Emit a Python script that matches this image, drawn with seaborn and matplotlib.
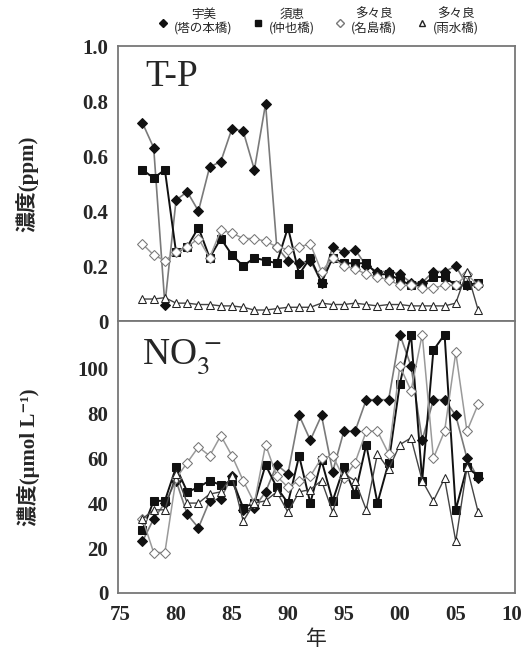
import numpy as np
import pandas as pd
import matplotlib
matplotlib.use("Agg")
import matplotlib.pyplot as plt
from matplotlib.lines import Line2D
import seaborn as sns

years = list(range(1977, 2008))

# T-P (ppm)
tp_umi = [0.72, 0.63, 0.06, 0.44, 0.47, 0.40, 0.56, 0.58, 0.70, 0.69, 0.55, 0.79, 0.27, 0.22, 0.21, 0.22,
          0.14, 0.27, 0.25, 0.26, 0.20, 0.18, 0.18, 0.17, 0.14, 0.14, 0.18, 0.18, 0.20, 0.13, 0.13]
tp_sue = [0.55, 0.52, 0.55, 0.25, 0.27, 0.34, 0.23, 0.30, 0.24, 0.20, 0.23, 0.22, 0.21, 0.34, 0.17, 0.23,
          0.14, 0.23, 0.21, 0.21, 0.21, 0.17, 0.17, 0.15, 0.13, 0.13, 0.16, 0.16, 0.13, 0.13, 0.14]
tp_najima = [0.28, 0.24, 0.22, 0.25, 0.27, 0.30, 0.23, 0.33, 0.32, 0.30, 0.30, 0.29, 0.27, 0.26, 0.27, 0.28,
             0.18, 0.23, 0.20, 0.19, 0.17, 0.16, 0.15, 0.13, 0.13, 0.12, 0.12, 0.13, 0.13, 0.17, 0.13]
tp_usui = [0.08, 0.08, 0.085, 0.065, 0.065, 0.06, 0.06, 0.055, 0.055, 0.05, 0.04, 0.04, 0.045, 0.05, 0.05, 0.05,
           0.065, 0.06, 0.06, 0.065, 0.06, 0.055, 0.06, 0.06, 0.055, 0.055, 0.055, 0.055, 0.065, 0.18, 0.04]

# NO3- (umol/L)
no3_umi = [23, 33, 40, 50, 35, 29, 41, 42, 52, 37, 38, 45, 57, 53, 79, 68,
           79, 54, 72, 72, 86, 86, 86, 115, 101, 68, 86, 86, 79, 60, 51]
no3_sue = [28, 41, 41, 56, 45, 47, 50, 48, 50, 38, 40, 57, 47, 40, 61, 40,
           59, 41, 56, 44, 66, 40, 58, 93, 115, 50, 108, 115, 37, 56, 52]
no3_najima = [33, 18, 18, 51, 58, 65, 61, 70, 61, 50, 40, 66, 52, 47, 50, 52,
              60, 61, 51, 58, 72, 72, 62, 101, 90, 115, 60, 72, 107, 72, 84]
no3_usui = [33, 37, 37, 53, 40, 40, 44, 45, 52, 32, 40, 41, 45, 36, 45, 46,
            50, 36, 53, 50, 37, 62, 55, 66, 69, 50, 41, 51, 23, 56, 36]

site_labels = ["宇美\n(塔の本橋)", "須恵\n(仲也橋)", "多々良\n(名島橋)", "多々良\n(雨水橋)"]
xtick_years = [1975, 1980, 1985, 1990, 1995, 2000, 2005, 2010]
xtick_labels = ["75", "80", "85", "90", "95", "00", "05", "10"]
tp_ticks = [0, 0.2, 0.4, 0.6, 0.8, 1.0]
tp_ticklabels = ["0", "0.2", "0.4", "0.6", "0.8", "1.0"]
no3_ticks = [0, 20, 40, 60, 80, 100]

sns.set_style("white")
plt.rcParams["font.family"] = ["Liberation Serif", "Noto Sans CJK JP", "DejaVu Sans"]
plt.rcParams["mathtext.fontset"] = "stix"

styles = [
    dict(marker="D", markersize=5, color="#7a7a7a", markerfacecolor="#111111", markeredgecolor="#111111", linewidth=1.2),
    dict(marker="s", markersize=6, color="#111111", markerfacecolor="#111111", markeredgecolor="#111111", linewidth=1.4),
    dict(marker="D", markersize=5, color="#9a9a9a", markerfacecolor="white", markeredgecolor="#777777", linewidth=1.1),
    dict(marker="^", markersize=6, color="#444444", markerfacecolor="white", markeredgecolor="#222222", linewidth=1.0),
]

fig = plt.figure(figsize=(5.31, 6.63), dpi=100)
ax1 = fig.add_axes([0.222, 0.5158, 0.748, 0.4148])
ax2 = fig.add_axes([0.222, 0.1056, 0.748, 0.4102], sharex=ax1)

for vals, st in zip([tp_umi, tp_sue, tp_najima, tp_usui], styles):
    sns.lineplot(x=years, y=vals, ax=ax1, **st)
for vals, st in zip([no3_umi, no3_sue, no3_najima, no3_usui], styles):
    sns.lineplot(x=years, y=vals, ax=ax2, **st)

ax1.set_ylim(0, 1.0)
ax2.set_ylim(0, 121)
ax1.set_xlim(1974.8, 2010.3)

ax1.set_yticks(tp_ticks)
ax1.set_yticklabels(tp_ticklabels)
ax2.set_yticks(no3_ticks)
ax2.set_xticks(xtick_years)
ax2.set_xticklabels(xtick_labels)
ax1.tick_params(labelbottom=False)

for ax in (ax1, ax2):
    for sp in ax.spines.values():
        sp.set_color("#777777")
        sp.set_linewidth(1.3)
    ax.tick_params(direction="in", length=3, color="#999999", labelsize=15, width=0.8)
    for lab in ax.get_yticklabels() + ax.get_xticklabels():
        lab.set_fontweight("bold")
ax2.tick_params(axis="x", pad=9)
ax2.tick_params(axis="y", pad=7)
ax1.tick_params(axis="y", pad=7)

ax1.set_ylabel("濃度(ppm)", fontsize=15, fontweight="bold")
ax2.set_ylabel("濃度(μmol L⁻¹)", fontsize=15, fontweight="bold")
ax1.yaxis.set_label_coords(-0.2, 0.5)
ax2.yaxis.set_label_coords(-0.195, 0.5)
ax2.set_xlabel("年", fontsize=15, family=["Noto Sans CJK JP"], labelpad=2)

ax1.text(0.07, 0.95, "T-P", transform=ax1.transAxes, fontsize=27, va="top", ha="left")
ax2.text(0.06, 0.94, "NO$_3^{\\,-}$", transform=ax2.transAxes, fontsize=27, va="top", ha="left")

handles = [Line2D([], [], linestyle="none", marker=st["marker"], markersize=st["markersize"] - 1,
                  markerfacecolor=st["markerfacecolor"], markeredgecolor=st["markeredgecolor"])
           for st in styles]
leg = fig.legend(handles, site_labels, loc="upper center", bbox_to_anchor=(0.6, 1.005), ncol=4,
                 frameon=False, handlelength=0.8, handletextpad=0.5, columnspacing=1.6,
                 prop={"family": ["Noto Sans CJK JP"], "size": 9})
for t in leg.get_texts():
    t.set_multialignment("center")

fig.savefig("out.png", dpi=100)
